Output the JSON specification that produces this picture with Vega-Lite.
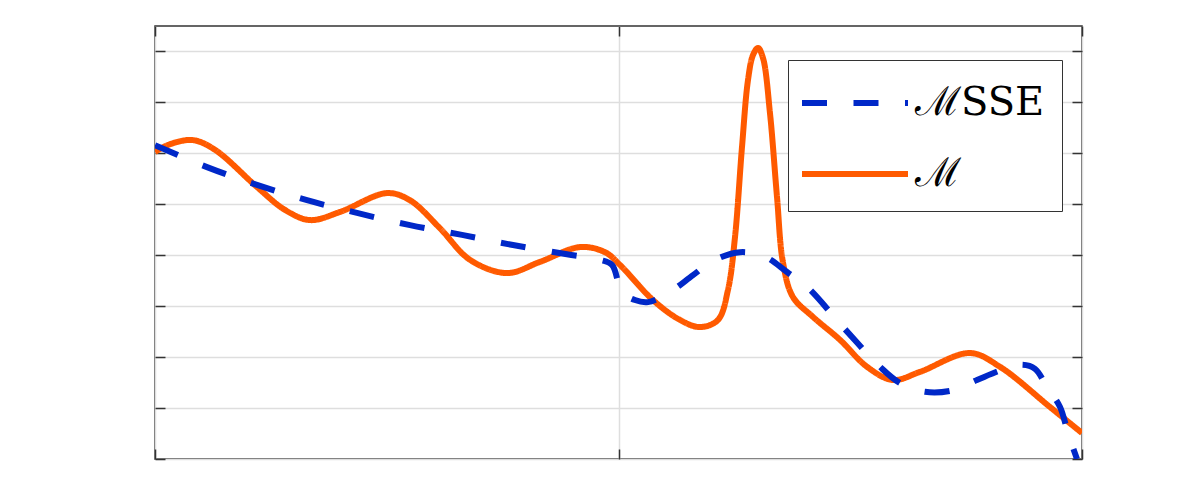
{
  "$schema": "https://vega.github.io/schema/vega-lite/v6.json",
  "width": 927,
  "height": 433,
  "autosize": {"type": "none"},
  "padding": {"left": 155, "top": 26, "right": 114, "bottom": 42},
  "background": "white",
  "config": {
    "view": {"stroke": "#333333", "strokeWidth": 1.5},
    "axis": {
      "labels": false,
      "title": null,
      "domain": false,
      "tickColor": "#333333",
      "tickWidth": 1.5,
      "tickSize": -10,
      "gridColor": "#dedede",
      "gridWidth": 1.5
    }
  },
  "datasets": {
    "orange": [
      {"series": "M", "x": 0, "y": 6.03},
      {"series": "M", "x": 1.62, "y": 6.18},
      {"series": "M", "x": 4.1, "y": 6.26},
      {"series": "M", "x": 6.47, "y": 6.07},
      {"series": "M", "x": 11.0, "y": 5.34},
      {"series": "M", "x": 14.02, "y": 4.89},
      {"series": "M", "x": 16.72, "y": 4.69},
      {"series": "M", "x": 19.96, "y": 4.85},
      {"series": "M", "x": 25.03, "y": 5.22},
      {"series": "M", "x": 27.5, "y": 5.08},
      {"series": "M", "x": 30.74, "y": 4.53},
      {"series": "M", "x": 33.98, "y": 3.91},
      {"series": "M", "x": 37.97, "y": 3.65},
      {"series": "M", "x": 41.53, "y": 3.87},
      {"series": "M", "x": 45.85, "y": 4.16},
      {"series": "M", "x": 48.54, "y": 4.06},
      {"series": "M", "x": 50.16, "y": 3.81},
      {"series": "M", "x": 53.72, "y": 3.12},
      {"series": "M", "x": 56.63, "y": 2.73},
      {"series": "M", "x": 58.79, "y": 2.59},
      {"series": "M", "x": 60.73, "y": 2.73},
      {"series": "M", "x": 61.81, "y": 3.32},
      {"series": "M", "x": 62.57, "y": 4.36},
      {"series": "M", "x": 63.32, "y": 6.12},
      {"series": "M", "x": 63.97, "y": 7.44},
      {"series": "M", "x": 64.51, "y": 7.93},
      {"series": "M", "x": 65.05, "y": 8.07},
      {"series": "M", "x": 65.59, "y": 7.87},
      {"series": "M", "x": 66.34, "y": 6.79},
      {"series": "M", "x": 67.1, "y": 5.14},
      {"series": "M", "x": 67.75, "y": 3.85},
      {"series": "M", "x": 68.82, "y": 3.18},
      {"series": "M", "x": 70.98, "y": 2.79},
      {"series": "M", "x": 73.89, "y": 2.34},
      {"series": "M", "x": 76.81, "y": 1.81},
      {"series": "M", "x": 79.61, "y": 1.55},
      {"series": "M", "x": 82.52, "y": 1.71},
      {"series": "M", "x": 87.92, "y": 2.08},
      {"series": "M", "x": 91.15, "y": 1.81},
      {"series": "M", "x": 96.55, "y": 1.02},
      {"series": "M", "x": 100, "y": 0.51}
    ],
    "blue": [
      {"series": "M_SSE", "x": 0, "y": 6.16},
      {"series": "M_SSE", "x": 5.61, "y": 5.73},
      {"series": "M_SSE", "x": 11.0, "y": 5.38},
      {"series": "M_SSE", "x": 16.4, "y": 5.08},
      {"series": "M_SSE", "x": 21.79, "y": 4.83},
      {"series": "M_SSE", "x": 27.51, "y": 4.59},
      {"series": "M_SSE", "x": 33.12, "y": 4.4},
      {"series": "M_SSE", "x": 38.62, "y": 4.2},
      {"series": "M_SSE", "x": 44.44, "y": 4.02},
      {"series": "M_SSE", "x": 48.0, "y": 3.91},
      {"series": "M_SSE", "x": 49.3, "y": 3.81},
      {"series": "M_SSE", "x": 50.38, "y": 3.28},
      {"series": "M_SSE", "x": 51.78, "y": 3.12},
      {"series": "M_SSE", "x": 53.18, "y": 3.08},
      {"series": "M_SSE", "x": 55.56, "y": 3.28},
      {"series": "M_SSE", "x": 58.04, "y": 3.61},
      {"series": "M_SSE", "x": 60.19, "y": 3.89},
      {"series": "M_SSE", "x": 63.11, "y": 4.06},
      {"series": "M_SSE", "x": 65.8, "y": 3.97},
      {"series": "M_SSE", "x": 68.18, "y": 3.67},
      {"series": "M_SSE", "x": 70.44, "y": 3.36},
      {"series": "M_SSE", "x": 74.22, "y": 2.59},
      {"series": "M_SSE", "x": 78.21, "y": 1.81},
      {"series": "M_SSE", "x": 80.37, "y": 1.49},
      {"series": "M_SSE", "x": 83.06, "y": 1.32},
      {"series": "M_SSE", "x": 86.08, "y": 1.35},
      {"series": "M_SSE", "x": 88.67, "y": 1.55},
      {"series": "M_SSE", "x": 91.37, "y": 1.75},
      {"series": "M_SSE", "x": 93.53, "y": 1.85},
      {"series": "M_SSE", "x": 94.93, "y": 1.77},
      {"series": "M_SSE", "x": 96.23, "y": 1.41},
      {"series": "M_SSE", "x": 97.63, "y": 1.02},
      {"series": "M_SSE", "x": 98.49, "y": 0.51},
      {"series": "M_SSE", "x": 99.46, "y": 0}
    ]
  },
  "layer": [
    {
      "data": {"name": "orange"},
      "mark": {"type": "line", "interpolate": "catmull-rom", "strokeWidth": 6, "strokeCap": "butt", "clip": true},
      "encoding": {
        "x": {"field": "x", "type": "quantitative", "scale": {"domain": [0, 100], "nice": false, "zero": false},
              "axis": {"orient": "bottom", "values": [0, 50, 100], "grid": true}},
        "y": {"field": "y", "type": "quantitative", "scale": {"domain": [0, 8.5], "nice": false, "zero": false},
              "axis": {"orient": "left", "values": [0, 1, 2, 3, 4, 5, 6, 7, 8], "grid": true}},
        "color": {
          "field": "series", "type": "nominal",
          "scale": {"domain": ["M_SSE", "M"], "range": ["#0028c8", "#ff5a00"]},
          "legend": {
            "title": null,
            "orient": "none",
            "legendX": 633,
            "legendY": 34,
            "symbolType": "M-1.2609,0H3.3478",
            "symbolSize": 2116,
            "symbolStrokeWidth": 6,
            "labelFont": "DejaVu Serif",
            "labelFontSize": 40,
            "labelColor": "black",
            "labelOffset": 58,
            "rowPadding": 25,
            "labelExpr": "datum.label == 'M_SSE' ? 'ℳSSE\u00a0' : 'ℳ'",
            "strokeColor": "#333333",
            "fillColor": "white",
            "padding": 17
          }
        },
        "strokeDash": {
          "field": "series", "type": "nominal",
          "scale": {"domain": ["M_SSE", "M"], "range": [[25, 26.5], [1, 0]]},
          "legend": null
        }
      }
    },
    {
      "data": {"name": "blue"},
      "mark": {"type": "line", "interpolate": "catmull-rom", "strokeWidth": 6, "strokeCap": "butt", "clip": true},
      "encoding": {
        "x": {"field": "x", "type": "quantitative", "axis": {"orient": "top", "values": [0, 50, 100], "grid": false}},
        "y": {"field": "y", "type": "quantitative", "axis": {"orient": "right", "values": [0, 1, 2, 3, 4, 5, 6, 7, 8], "grid": false}},
        "color": {"field": "series", "type": "nominal"},
        "strokeDash": {"field": "series", "type": "nominal", "legend": null}
      }
    }
  ],
  "resolve": {"axis": {"x": "independent", "y": "independent"}}
}
